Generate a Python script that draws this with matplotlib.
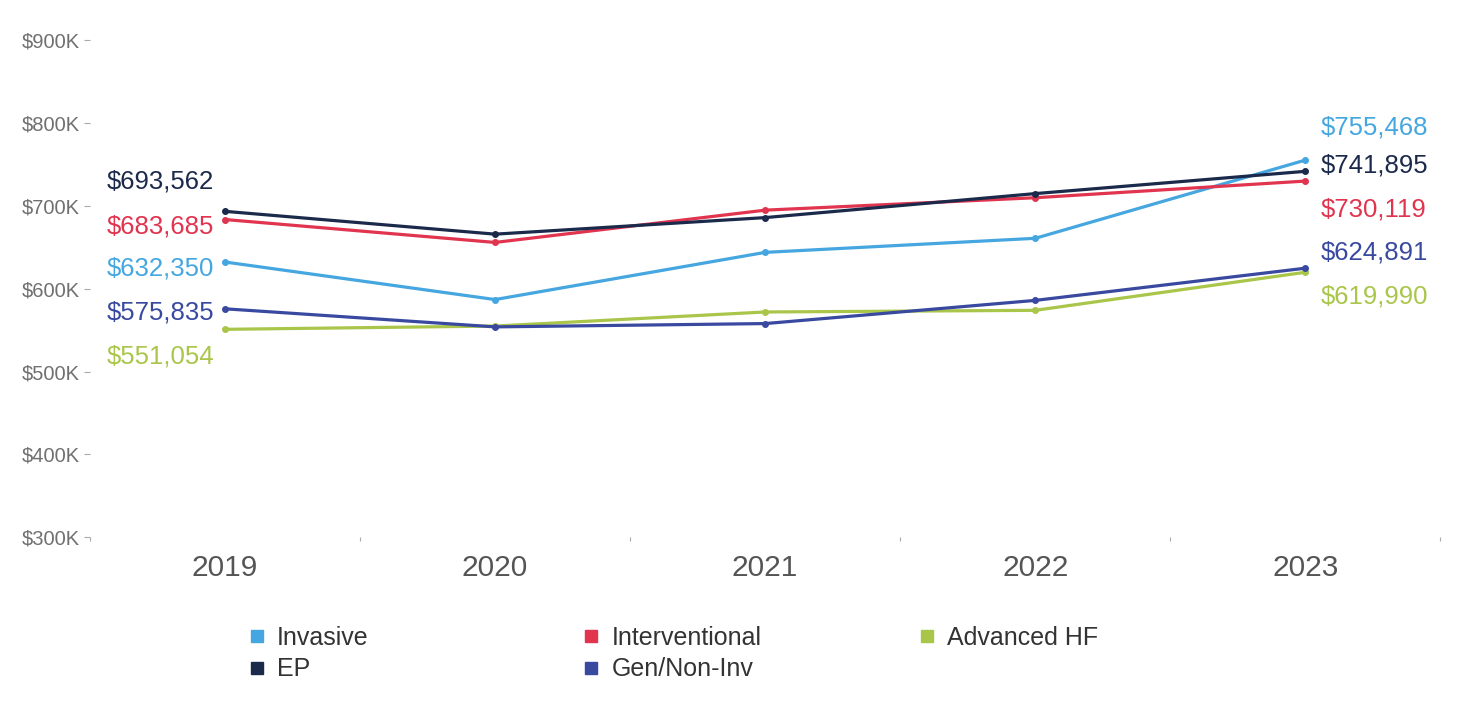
import numpy as np
import matplotlib
matplotlib.use('Agg')
import matplotlib.pyplot as plt
from matplotlib.lines import Line2D
from matplotlib.ticker import FuncFormatter

plt.rcParams['font.family'] = ['Liberation Sans', 'DejaVu Sans']

years = ['2019', '2020', '2021', '2022', '2023']

invasive = [632350, 587000, 644000, 661000, 755468]
interventional = [683685, 656000, 695000, 710000, 730119]
advanced_hf = [551054, 555000, 572000, 574000, 619990]
ep = [693562, 666000, 686000, 715000, 741895]
gen_non_inv = [575835, 554000, 558000, 586000, 624891]

series = [
    ('Invasive', invasive, '#45a6e0', -6, 33),
    ('Interventional', interventional, '#e0344f', -7, -28),
    ('Advanced HF', advanced_hf, '#a9c64a', -27, -24),
    ('EP', ep, '#1b2a4b', 30, 6),
    ('Gen/Non-Inv', gen_non_inv, '#3a49a0', -4, 16),
]

fig = plt.figure(figsize=(14.6, 7.22), dpi=100)
ax = fig.add_axes([0.0616, 0.256, 0.925, 0.688])

x = np.arange(len(years))
handles = {}
for name, vals, color, off_l, off_r in series:
    ax.plot(x, vals, color=color, lw=2.3, marker='o', markersize=4, zorder=3)
    handles[name] = Line2D([], [], color=color, marker='s', linestyle='none', markersize=9)
    ax.annotate('${:,}'.format(vals[0]), (x[0], vals[0]), xytext=(-11, off_l),
                textcoords='offset pixels', ha='right', va='center', fontsize=18.5, color=color)
    ax.annotate('${:,}'.format(vals[-1]), (x[-1], vals[-1]), xytext=(15, off_r),
                textcoords='offset pixels', ha='left', va='center', fontsize=18.5, color=color)

ax.set_xlim(-0.5, 4.5)
ax.set_ylim(300000, 900000)
ax.set_yticks(np.arange(300000, 900001, 100000))
ax.yaxis.set_major_formatter(FuncFormatter(lambda v, p: '${:d}K'.format(int(v / 1000))))
ax.set_xticks(x)
ax.set_xticklabels(years)
ax.set_xticks(np.arange(-0.5, 4.6, 1), minor=True)

for s in ax.spines.values():
    s.set_visible(False)

ax.tick_params(axis='y', length=4, width=0.8, color='#aaaaaa', pad=3, labelsize=14.5, labelcolor='#707070')
ax.tick_params(axis='x', which='major', length=0, pad=12, labelsize=21.5, labelcolor='#555555')
ax.tick_params(axis='x', which='minor', length=3, width=0.8, color='#aaaaaa')

# legend: three columns placed by hand
cols = [(['Invasive', 'EP'], 0.171), (['Interventional', 'Gen/Non-Inv'], 0.400), (['Advanced HF'], 0.630)]
for names, xpos in cols:
    leg = fig.legend([handles[n] for n in names], names, loc='upper left',
                     bbox_to_anchor=(xpos, 0.133), bbox_transform=fig.transFigure,
                     frameon=False, fontsize=18, handlelength=0.55, handletextpad=0.55,
                     labelspacing=0.3, borderpad=0, borderaxespad=0)
    for t in leg.get_texts():
        t.set_color('#333333')

fig.savefig('out.png', dpi=100, facecolor='white')
